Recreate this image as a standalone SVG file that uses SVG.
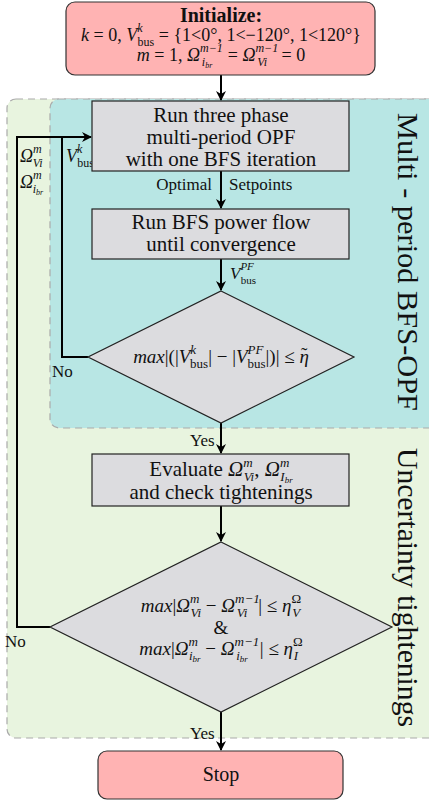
<svg xmlns="http://www.w3.org/2000/svg" width="429" height="802" viewBox="0 0 429 802">
<style>
.t{font-family:"Liberation Serif","Times New Roman",serif;fill:#111}
.m{font-family:"Liberation Serif","Times New Roman",serif;font-style:italic;fill:#111}
.r{font-style:normal}
.box{fill:#dcdcdf;stroke:#222;stroke-width:1.2}
.term{fill:#ffb3b3;stroke:#333;stroke-width:1.2}
.dia{fill:#dcdcdf;stroke:#222;stroke-width:1.2}
.conn{fill:none;stroke:#000;stroke-width:2}
.region{stroke:#aaa;stroke-width:1.2;stroke-dasharray:7 5}
</style>
<defs>
<marker id="ah" viewBox="0 0 10 10" refX="9" refY="5" markerWidth="10" markerHeight="10" markerUnits="userSpaceOnUse" orient="auto">
<path d="M0,0 L10,5 L0,10 L3,5 Z" fill="#000"/>
</marker>
</defs>

<g id="regions">
<rect x="7" y="99" width="440" height="639" rx="9" fill="#e8f4df" class="region"/>
<rect x="50" y="99" width="400" height="329" rx="9" fill="#b8e6e4" class="region"/>
<text class="t" font-size="30" transform="translate(398,113) rotate(90)" textLength="298" lengthAdjust="spacingAndGlyphs">Multi - period BFS-OPF</text>
<text class="t" font-size="30" transform="translate(398,448) rotate(90)" textLength="279" lengthAdjust="spacingAndGlyphs">Uncertainty tightenings</text>
</g>

<g id="connectors">
<path class="conn" d="M221,75 V100" marker-end="url(#ah)"/>
<path class="conn" d="M221,171 V208" marker-end="url(#ah)"/>
<path class="conn" d="M221,259 V290" marker-end="url(#ah)"/>
<path class="conn" d="M221,423 V453" marker-end="url(#ah)"/>
<path class="conn" d="M221,506 V541" marker-end="url(#ah)"/>
<path class="conn" d="M221,712 V750" marker-end="url(#ah)"/>
<path class="conn" d="M88,357 H62 V137 H91" marker-end="url(#ah)"/>
<path class="conn" d="M50,627 H17 V137 H62"/>
<text class="t" font-size="17" x="212" y="190" text-anchor="end">Optimal</text>
<text class="t" font-size="17" x="229" y="190">Setpoints</text>
<text class="m" font-size="17" x="230" y="279">V<tspan font-size="11" dy="-9">PF</tspan><tspan class="r" font-size="11" dx="-13" dy="14">bus</tspan></text>
<text class="t" font-size="17" x="52" y="377">No</text>
<text class="t" font-size="17" x="5" y="647">No</text>
<text class="t" font-size="17" x="190" y="446">Yes</text>
<text class="t" font-size="17" x="190" y="739">Yes</text>
<text class="m" font-size="18" x="20" y="162">Ω<tspan font-size="12" dy="-9">m</tspan><tspan font-size="12" dx="-9" dy="14">Vi</tspan></text>
<text class="m" font-size="18" x="20" y="188">Ω<tspan font-size="12" dy="-9">m</tspan><tspan font-size="12" dx="-9" dy="14">i</tspan><tspan font-size="8" dy="2">br</tspan></text>
<text class="m" font-size="18" x="66" y="162">V<tspan font-size="12" dy="-9">k</tspan><tspan class="r" font-size="12" dx="-5" dy="14">bus</tspan></text>
</g>

<g id="init">
<rect class="term" x="66" y="2" width="309" height="73" rx="9"/>
<text class="t" font-size="20" font-weight="bold" x="221" y="22" text-anchor="middle">Initialize:</text>
<text class="m" font-size="18" x="221" y="41" text-anchor="middle">k <tspan class="r">= 0,</tspan> V<tspan font-size="12" dy="-9">k</tspan><tspan class="r" font-size="12" dx="-5" dy="14">bus</tspan><tspan class="r" dy="-5"> = {1&lt;0°, 1&lt;−120°, 1&lt;120°}</tspan></text>
<text class="m" font-size="18" x="221" y="61" text-anchor="middle">m <tspan class="r">= 1,</tspan> Ω<tspan font-size="12" dy="-9">m−1</tspan><tspan font-size="12" dx="-21" dy="14">i</tspan><tspan font-size="8" dy="2">br</tspan><tspan class="r" dx="11" dy="-7"> = </tspan>Ω<tspan font-size="12" dy="-9">m−1</tspan><tspan font-size="12" dx="-21" dy="14">Vi</tspan><tspan class="r" dx="10" dy="-5"> = 0</tspan></text>
</g>

<g id="opf">
<rect class="box" x="92" y="101" width="257" height="70"/>
<text class="t" font-size="21" text-anchor="middle"><tspan x="221" y="122">Run three phase</tspan><tspan x="221" y="144">multi-period OPF</tspan><tspan x="221" y="166">with one BFS iteration</tspan></text>
</g>

<g id="bfs">
<rect class="box" x="92" y="209" width="257" height="50"/>
<text class="t" font-size="21" text-anchor="middle"><tspan x="221" y="229">Run BFS power flow</tspan><tspan x="221" y="251">until convergence</tspan></text>
</g>

<g id="check1">
<polygon class="dia" points="221,291 354,357 221,423 88,357"/>
<text class="m" font-size="19" x="221" y="363" text-anchor="middle">max<tspan class="r">|(|</tspan>V<tspan font-size="13" dy="-9">k</tspan><tspan class="r" font-size="13" dx="-6" dy="14">bus</tspan><tspan class="r" dy="-5">| − |</tspan>V<tspan font-size="13" dy="-9">PF</tspan><tspan class="r" font-size="13" dx="-16" dy="14">bus</tspan><tspan class="r" dy="-5">|)| ≤ </tspan>η<tspan class="r" dx="-8" dy="-2">˜</tspan><tspan dy="2"> </tspan></text>
</g>

<g id="evaluate">
<rect class="box" x="92" y="454" width="257" height="52"/>
<text class="t" font-size="21" x="221" y="476" text-anchor="middle">Evaluate <tspan class="m">Ω</tspan><tspan class="m" font-size="13" dy="-9">m</tspan><tspan class="m" font-size="13" dx="-9" dy="14">Vi</tspan><tspan dy="-5">, </tspan><tspan class="m">Ω</tspan><tspan class="m" font-size="13" dy="-9">m</tspan><tspan class="m" font-size="13" dx="-9" dy="14">I</tspan><tspan class="m" font-size="9" dy="2">br</tspan></text>
<text class="t" font-size="21" x="221" y="499" text-anchor="middle">and check tightenings</text>
</g>

<g id="check2">
<polygon class="dia" points="221,542 392,627 221,712 50,627"/>
<text class="m" font-size="19" x="221" y="612" text-anchor="middle">max<tspan class="r">|</tspan>Ω<tspan font-size="13" dy="-9">m</tspan><tspan font-size="13" dx="-9" dy="14">Vi</tspan><tspan class="r" dy="-5"> − </tspan>Ω<tspan font-size="13" dy="-9">m−1</tspan><tspan font-size="13" dx="-23" dy="14">Vi</tspan><tspan class="r" dx="11" dy="-5">| ≤ </tspan>η<tspan class="r" font-size="13" dy="-9">Ω</tspan><tspan font-size="13" dx="-9" dy="14">V</tspan></text>
<text class="t" font-size="19" x="221" y="634" text-anchor="middle">&amp;</text>
<text class="m" font-size="19" x="221" y="655" text-anchor="middle">max<tspan class="r">|</tspan>Ω<tspan font-size="13" dy="-9">m</tspan><tspan font-size="13" dx="-9" dy="14">i</tspan><tspan font-size="9" dy="2">br</tspan><tspan class="r" dy="-7"> − </tspan>Ω<tspan font-size="13" dy="-9">m−1</tspan><tspan font-size="13" dx="-23" dy="14">i</tspan><tspan font-size="9" dy="2">br</tspan><tspan class="r" dx="12" dy="-7">| ≤ </tspan>η<tspan class="r" font-size="13" dy="-9">Ω</tspan><tspan font-size="13" dx="-9" dy="14">I</tspan></text>
</g>

<g id="stop">
<rect class="term" x="98" y="751" width="245" height="48" rx="9"/>
<text class="t" font-size="20" x="221" y="781" text-anchor="middle">Stop</text>
</g>
</svg>
